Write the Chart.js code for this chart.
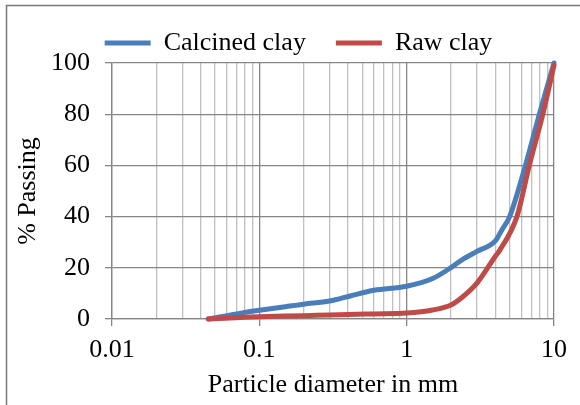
<!DOCTYPE html>
<html>
<head>
<meta charset="utf-8">
<script src="https://cdn.jsdelivr.net/npm/chart.js@4.4.1/dist/chart.umd.min.js"></script>
<style>
  body { margin: 0; background: #fff; }
</style>
</head>
<body>
<canvas id="grading-chart" width="580" height="405"></canvas>
<script>
// particle sizes (mm) and % passing
const calcinedSize = [0.045, 0.075, 0.1, 0.15, 0.2, 0.3, 0.425, 0.6, 1, 1.5, 2, 2.36, 3, 4, 4.45, 5, 6.4, 8, 10];
const calcinedPassing = [0, 2.3, 3.4, 4.8, 5.8, 7.0, 9.2, 11.2, 12.8, 15.8, 20.1, 23, 26.4, 30.5, 35, 40, 60, 80.5, 100];

const rawSize = [0.045, 0.075, 0.1, 0.2, 0.3, 0.6, 1, 1.5, 2, 2.36, 3, 4, 4.3, 5.6, 6.8, 8.4, 10];
const rawPassing = [0, 0.6, 0.9, 1.3, 1.6, 2.0, 2.3, 3.5, 5.5, 8.3, 14, 24.5, 27, 40, 60, 80, 99];

const xMajorValues = [0.01, 0.1, 1, 10];
const xTickLabels = ["0.01", "0.1", "1", "10"];
const yTickValues = [0, 20, 40, 60, 80, 100];

// minor log gridlines: 1..9 in every decade
const xGridValues = [0.01, 0.1, 1]
  .flatMap((d) => [1, 2, 3, 4, 5, 6, 7, 8, 9].map((m) => +(m * d).toPrecision(3)))
  .concat([10]);

function isMajor(v) {
  return xMajorValues.some((m) => Math.abs(m - v) < 1e-9);
}

function toPoints(xs, ys) {
  return xs.map((x, i) => ({ x, y: ys[i] }));
}

Chart.defaults.font.family = '"Liberation Serif", "Times New Roman", serif';
Chart.defaults.font.size = 26;
Chart.defaults.color = "#000";

const trimLegend = {
  id: "trimLegend",
  beforeLayout(chart) {
    const legend = chart.legend;
    if (legend && !legend.trimmed) {
      const fit = legend.fit;
      legend.fit = function () {
        fit.call(this);
        this.height -= 3;
      };
      legend.trimmed = true;
    }
  },
};

const frame = {
  id: "frame",
  afterDraw(chart) {
    const c = chart.ctx;
    c.save();
    c.strokeStyle = "#7a7a7a";
    c.lineWidth = 1.5;
    c.beginPath();
    c.moveTo(6.5, 405);
    c.lineTo(6.5, 5.5);
    c.lineTo(580, 5.5);
    c.stroke();
    c.restore();
  },
};

const gridGray = "#868686";
const minorGray = "#c0c0c0";

new Chart(document.getElementById("grading-chart"), {
  type: "line",
  data: {
    datasets: [
      {
        label: "Calcined clay",
        data: toPoints(calcinedSize, calcinedPassing),
        borderColor: "#4a7ebb",
        backgroundColor: "#4a7ebb",
        borderWidth: 5,
        borderCapStyle: "round",
        pointRadius: 0,
        tension: 0.4,
        cubicInterpolationMode: "monotone",
        clip: false,
        order: 1,
      },
      {
        label: "Raw clay",
        data: toPoints(rawSize, rawPassing),
        borderColor: "#be4b48",
        backgroundColor: "#be4b48",
        borderWidth: 5,
        borderCapStyle: "round",
        pointRadius: 0,
        tension: 0.4,
        cubicInterpolationMode: "monotone",
        clip: false,
        order: 0,
      },
    ],
  },
  options: {
    responsive: false,
    animation: false,
    layout: { padding: { left: 17, right: 0, top: 0, bottom: 0 } },
    plugins: {
      tooltip: { enabled: false },
      legend: {
        position: "top",
        labels: {
          usePointStyle: true,
          pointStyle: "line",
          pointStyleWidth: 46,
          padding: 30,
          sort: (a, b) => a.datasetIndex - b.datasetIndex,
        },
      },
    },
    scales: {
      x: {
        type: "logarithmic",
        min: 0.01,
        max: 10,
        afterBuildTicks: (scale) => {
          scale.ticks = xGridValues.map((v) => ({ value: v }));
        },
        afterFit: (scale) => {
          scale.height = 86;
          scale.paddingRight = 26;
        },
        ticks: {
          autoSkip: false,
          maxRotation: 0,
          padding: 9,
          callback: (value) => {
            const i = xMajorValues.findIndex((m) => Math.abs(m - value) < 1e-9);
            return i >= 0 ? xTickLabels[i] : "";
          },
        },
        grid: {
          color: (ctx) => (ctx.tick && isMajor(ctx.tick.value) ? gridGray : minorGray),
          tickColor: (ctx) => (ctx.tick && isMajor(ctx.tick.value) ? gridGray : "rgba(0,0,0,0)"),
          lineWidth: 1.3,
          tickLength: 7,
        },
        border: { color: gridGray, width: 1.3 },
        title: {
          display: true,
          text: "Particle diameter in mm",
          padding: { top: 0, bottom: 4 },
        },
      },
      y: {
        min: 0,
        max: 100,
        afterBuildTicks: (scale) => {
          scale.ticks = yTickValues.map((v) => ({ value: v }));
        },
        afterFit: (scale) => {
          scale.width = 95;
        },
        ticks: { padding: 15 },
        grid: { color: gridGray, lineWidth: 1.3, tickLength: 7 },
        border: { color: gridGray, width: 1.3 },
        title: {
          display: true,
          text: "% Passing",
          padding: { top: -4, bottom: 0 },
        },
      },
    },
  },
  plugins: [trimLegend, frame],
});
</script>
</body>
</html>
